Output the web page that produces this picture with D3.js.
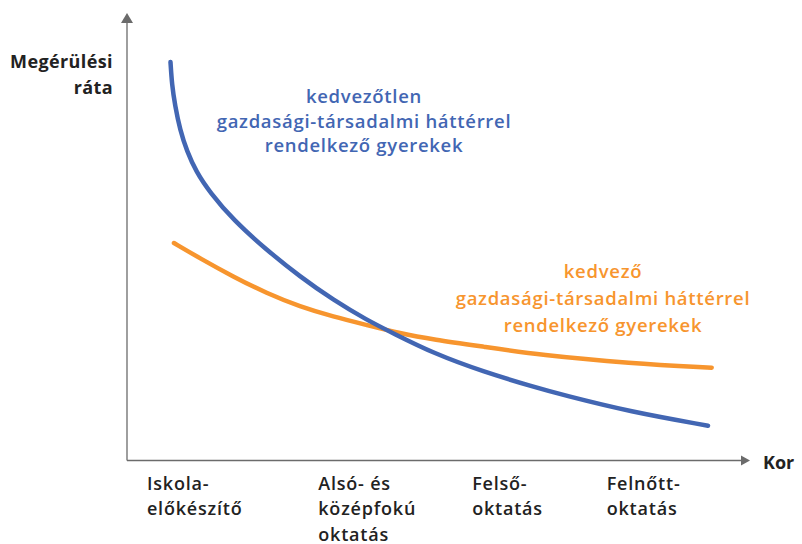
<!DOCTYPE html>
<html>
<head>
<meta charset="utf-8">
<script src="https://cdn.jsdelivr.net/npm/d3@7"></script>
<style>
  body { margin: 0; background: #fff; }
  svg { display: block; font-family: "Open Sans", sans-serif; }
</style>
</head>
<body>
<div id="chart"></div>
<script>
// x and y are in arbitrary units (0-100) along the axes
const stageLabels = [
  ["Iskola-", "előkészítő"],
  ["Alsó- és", "középfokú", "oktatás"],
  ["Felső-", "oktatás"],
  ["Felnőtt-", "oktatás"]
];
const stagePos = [3.2, 30.7, 55.4, 77.0];

const blueX = [6.98, 7.22, 7.70, 8.51, 9.63, 11.08, 13.32, 17.06, 22.42, 27.77, 33.11, 38.48, 42.74, 49.17, 57.19, 65.22, 69.98, 80.74, 93.26];
const blueY = [89.05, 83.91, 79.44, 73.85, 69.10, 64.60, 59.90, 53.74, 47.04, 41.07, 35.87, 31.40, 28.42, 23.96, 19.84, 16.49, 14.64, 10.91, 7.78];

const orangeX = [7.54, 11.72, 17.06, 22.42, 27.77, 33.11, 38.48, 43.82, 49.17, 57.19, 66.29, 80.74, 93.85];
const orangeY = [48.60, 45.18, 41.07, 37.36, 34.37, 32.13, 30.28, 28.42, 27.04, 25.43, 23.58, 21.72, 20.74];

const blueLabel = ["kedvezőtlen", "gazdasági-társadalmi háttérrel", "rendelkező gyerekek"];
const orangeLabel = ["kedvező", "gazdasági-társadalmi háttérrel", "rendelkező gyerekek"];
const yTitle = ["Megérülési", "ráta"];
const xTitle = "Kor";

const blue = "#4266b3";
const orange = "#f7952e";

const width = 802, height = 544;
const svg = d3.select("#chart").append("svg")
  .attr("width", width)
  .attr("height", height);

const x = d3.scaleLinear().domain([0, 100]).range([127, 750]);
const y = d3.scaleLinear().domain([0, 100]).range([460.5, 13]);

// axes
const axisColor = "#6b6b6b";
svg.append("line")
  .attr("x1", x(0)).attr("x2", x(0))
  .attr("y1", y(0)).attr("y2", y(100) + 9)
  .attr("stroke", axisColor).attr("stroke-width", 1.3);
svg.append("path")
  .attr("d", `M${x(0)},${y(100)} L${x(0) - 6},${y(100) + 10} L${x(0) + 6},${y(100) + 10} Z`)
  .attr("fill", axisColor);
svg.append("line")
  .attr("x1", x(0)).attr("x2", x(100) - 8)
  .attr("y1", y(0)).attr("y2", y(0))
  .attr("stroke", axisColor).attr("stroke-width", 1.3);
svg.append("path")
  .attr("d", `M${x(100)},${y(0)} L${x(100) - 9},${y(0) - 5} L${x(100) - 9},${y(0) + 5} Z`)
  .attr("fill", axisColor);

// axis titles
svg.append("text")
  .attr("text-anchor", "end")
  .attr("font-size", 18)
  .attr("font-weight", 700)
  .attr("letter-spacing", 0.4)
  .attr("fill", "#222")
  .selectAll("tspan")
  .data(yTitle)
  .join("tspan")
  .attr("x", 113)
  .attr("y", (d, i) => 68 + i * 26)
  .text(d => d);

svg.append("text")
  .attr("x", x(100) + 13)
  .attr("y", y(0) + 8)
  .attr("font-size", 18)
  .attr("font-weight", 700)
  .attr("fill", "#222")
  .text(xTitle);

// stage labels under the x axis
stageLabels.forEach(function(lines, i) {
  svg.append("text")
    .attr("font-size", 18)
    .attr("font-weight", 600)
    .attr("letter-spacing", 0.8)
    .attr("fill", "#222")
    .selectAll("tspan")
    .data(lines)
    .join("tspan")
    .attr("x", x(stagePos[i]))
    .attr("y", (d, j) => 489.5 + j * 25.5)
    .text(d => d);
});

// curves (b-spline through the read points, for a smooth shape)
const line = d3.line()
  .x(d => x(d[0]))
  .y(d => y(d[1]))
  .curve(d3.curveBasis);

svg.append("path")
  .datum(orangeX.map((v, i) => [v, orangeY[i]]))
  .attr("d", line)
  .attr("fill", "none")
  .attr("stroke", orange)
  .attr("stroke-width", 4.5)
  .attr("stroke-linecap", "round");

svg.append("path")
  .datum(blueX.map((v, i) => [v, blueY[i]]))
  .attr("d", line)
  .attr("fill", "none")
  .attr("stroke", blue)
  .attr("stroke-width", 4.5)
  .attr("stroke-linecap", "round");

// curve labels
function addLabel(lines, cx, y0, dy, color) {
  svg.append("text")
    .attr("text-anchor", "middle")
    .attr("font-size", 18.5)
    .attr("font-weight", 600)
    .attr("letter-spacing", 0.7)
    .attr("fill", color)
    .selectAll("tspan")
    .data(lines)
    .join("tspan")
    .attr("x", cx)
    .attr("y", (d, i) => y0 + i * dy)
    .text(d => d);
}
addLabel(blueLabel, 364, 103, 24.5, blue);
addLabel(orangeLabel, 603, 278, 27, orange);
</script>
</body>
</html>
